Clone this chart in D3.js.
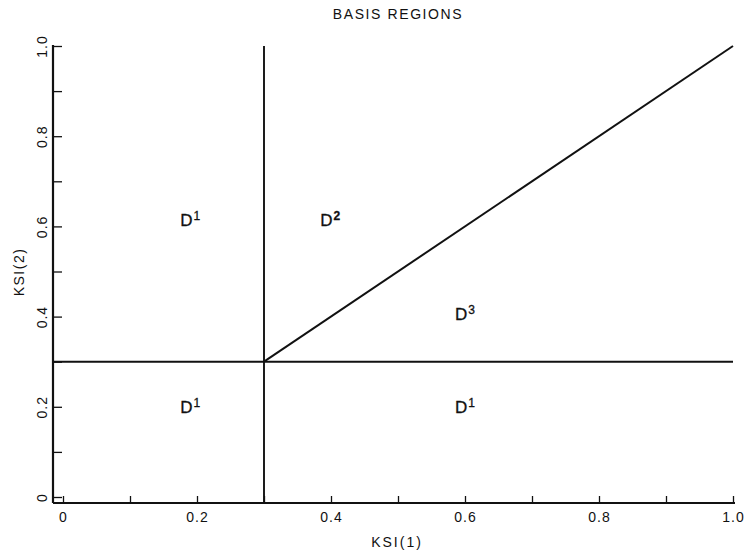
<!DOCTYPE html>
<html>
<head>
<meta charset="utf-8">
<script src="https://cdn.jsdelivr.net/npm/d3@7"></script>
<style>
  body { margin: 0; background: #fff; }
  svg text { font-family: "Liberation Sans", Arial, sans-serif; fill: #111; }
</style>
</head>
<body>
<svg id="canvas" width="748" height="556"></svg>
<script>
'use strict';

/* chart data */
const title = 'BASIS REGIONS';
const xLabel = 'KSI(1)';
const yLabel = 'KSI(2)';
const xTicks = [0, 0.1, 0.2, 0.3, 0.4, 0.5, 0.6, 0.7, 0.8, 0.9, 1.0];
const yTicks = [0, 0.1, 0.2, 0.3, 0.4, 0.5, 0.6, 0.7, 0.8, 0.9, 1.0];
const xTickLabels = ['0', '', '0.2', '', '0.4', '', '0.6', '', '0.8', '', '1.0'];
const yTickLabels = ['0', '', '0.2', '', '0.4', '', '0.6', '', '0.8', '', '1.0'];
const threshold = 0.3;
const diagonal = [[0.3, 0.3], [1.0, 1.0]];
const regionNames = ['D', 'D', 'D', 'D', 'D'];
const regionSups = ['1', '2', '3', '1', '1'];
const regionX = [0.175, 0.384, 0.585, 0.175, 0.585];
const regionY = [0.60, 0.60, 0.393, 0.187, 0.187];

const svg = d3.select('#canvas');

/* scales */
const x = d3.scaleLinear().domain([0, 1]).range([63, 733]);
const y = d3.scaleLinear().domain([0, 1]).range([497, 46]);

/* axis frame lines (drawn by hand, the axes themselves only give ticks) */
const axisX = 503, axisY = 53;
svg.append('line')
  .attr('x1', axisY).attr('x2', 735)
  .attr('y1', axisX).attr('y2', axisX)
  .style('stroke', '#111').style('stroke-width', 2.2);
svg.append('line')
  .attr('x1', axisY).attr('x2', axisY)
  .attr('y1', 45).attr('y2', axisX)
  .style('stroke', '#111').style('stroke-width', 2.2);

/* x axis: ticks point up, labels below */
let gx = svg.append('g')
  .attr('transform', `translate(0,${axisX})`)
  .call(d3.axisBottom(x)
    .tickValues(xTicks)
    .tickSize(-7)
    .tickPadding(9)
    .tickFormat((d, i) => xTickLabels[i]));
gx.select('.domain').remove();
gx.selectAll('.tick line').style('stroke', '#111').style('stroke-width', 1.3);
gx.selectAll('.tick text').style('font-size', '14px').style('letter-spacing', '1px');

/* y axis: ticks point right, labels rotated */
let gy = svg.append('g')
  .attr('transform', `translate(${axisY},0)`)
  .call(d3.axisLeft(y)
    .tickValues(yTicks)
    .tickSize(-9)
    .tickFormat((d, i) => yTickLabels[i]));
gy.select('.domain').remove();
gy.selectAll('.tick line').style('stroke', '#111').style('stroke-width', 1.3);
gy.selectAll('.tick text')
  .attr('x', null).attr('dy', null)
  .attr('transform', 'translate(-6,0) rotate(-90)')
  .attr('text-anchor', 'middle')
  .style('font-size', '14px')
  .style('letter-spacing', '1px');

/* region boundaries */
const bounds = svg.append('g').attr('id', 'boundaries');
bounds.append('line')
  .attr('x1', axisY).attr('x2', x(1))
  .attr('y1', y(threshold)).attr('y2', y(threshold))
  .style('stroke', '#111').style('stroke-width', 1.9);
bounds.append('line')
  .attr('x1', x(threshold)).attr('x2', x(threshold))
  .attr('y1', y(1)).attr('y2', axisX)
  .style('stroke', '#111').style('stroke-width', 1.9);
bounds.append('path')
  .attr('d', d3.line().x(d => x(d[0])).y(d => y(d[1]))(diagonal))
  .style('fill', 'none')
  .style('stroke', '#111').style('stroke-width', 2);

/* region labels */
const labels = svg.append('g').attr('id', 'regions')
  .selectAll('text')
  .data(regionNames.map((n, i) => ({ n: n, s: regionSups[i], x: regionX[i], y: regionY[i] })))
  .enter().append('text')
  .attr('x', d => x(d.x))
  .attr('y', d => y(d.y))
  .style('font-size', '17px')
  .style('stroke', '#111')
  .style('stroke-width', 0.3);
labels.append('tspan').text(d => d.n);
labels.append('tspan')
  .attr('dx', 1)
  .attr('dy', -6)
  .style('font-size', '12px')
  .style('font-weight', d => d.s === '2' ? 'bold' : 'normal')
  .text(d => d.s);

/* titles */
svg.append('text')
  .attr('x', 398).attr('y', 19)
  .attr('text-anchor', 'middle')
  .style('font-size', '14px')
  .style('letter-spacing', '1.6px')
  .text(title);
svg.append('text')
  .attr('x', 397).attr('y', 547)
  .attr('text-anchor', 'middle')
  .style('font-size', '14px')
  .style('letter-spacing', '2px')
  .text(xLabel);
svg.append('text')
  .attr('transform', 'translate(24,272) rotate(-90)')
  .attr('text-anchor', 'middle')
  .style('font-size', '14px')
  .style('letter-spacing', '1.5px')
  .text(yLabel);
</script>
</body>
</html>
